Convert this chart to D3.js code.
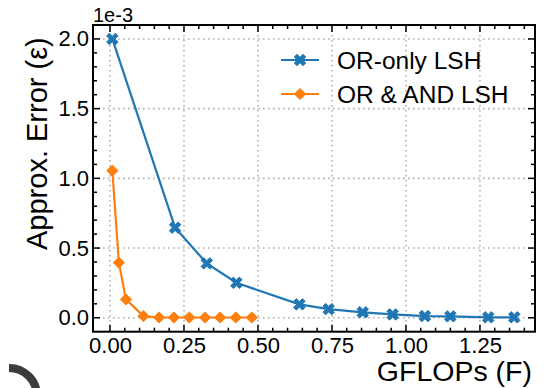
<!DOCTYPE html>
<html><head><meta charset="utf-8">
<script src="https://cdn.jsdelivr.net/npm/d3@7"></script>
<style>html,body{margin:0;padding:0;background:#fff;}svg{display:block;font-family:"Liberation Sans",Arial,sans-serif;}</style>
</head><body>
<svg id="c" width="546" height="388"></svg>
<script>
// values in units of 1e-3
const orOnlyX = [0.008, 0.22, 0.327, 0.427, 0.64, 0.739, 0.854, 0.955, 1.064, 1.15, 1.278, 1.366];
const orOnlyY = [2.0, 0.646, 0.39, 0.251, 0.096, 0.062, 0.039, 0.024, 0.012, 0.01, 0.003, 0.003];
const orAndX = [0.008, 0.030, 0.054, 0.113, 0.166, 0.216, 0.268, 0.321, 0.372, 0.425, 0.479];
const orAndY = [1.055, 0.395, 0.132, 0.012, 0.002, 0.002, 0.002, 0.002, 0.002, 0.002, 0.002];
const xTicks = [0, 0.25, 0.5, 0.75, 1.0, 1.25];
const yTicks = [0, 0.5, 1.0, 1.5, 2.0];
const seriesNames = ["OR-only LSH", "OR & AND LSH"];
const colors = ["#1f77b4", "#ff7f0e"];

const svg = d3.select("#c");
const L = 93, R = 535, T = 25, B = 331.7;
const x = d3.scaleLinear().domain([-0.0574, 1.436]).range([L, R]);
const y = d3.scaleLinear().domain([-0.1, 2.1]).range([B, T]);

// grid
const grid = svg.append("g").attr("stroke", "#b0b0b0").attr("stroke-width", 1.6).attr("stroke-dasharray", "1.6,3.4");
xTicks.forEach(v => grid.append("line").attr("x1", x(v)).attr("x2", x(v)).attr("y1", T).attr("y2", B));
yTicks.forEach(v => grid.append("line").attr("y1", y(v)).attr("y2", y(v)).attr("x1", L).attr("x2", R));

// ticks (inward, all sides)
const xMinor = d3.range(0, 1.43, 0.05).filter(v => !xTicks.some(t => Math.abs(t - v) < 1e-6));
const yMinor = d3.range(-0.1, 2.101, 0.1).filter(v => v > -0.099 && v < 2.099 && !yTicks.some(t => Math.abs(t - v) < 1e-6));
const tg = svg.append("g").attr("stroke", "#000").attr("stroke-width", 1.5);
function xt(v, len) {
  tg.append("line").attr("x1", x(v)).attr("x2", x(v)).attr("y1", B).attr("y2", B - len);
  tg.append("line").attr("x1", x(v)).attr("x2", x(v)).attr("y1", T).attr("y2", T + len);
}
function yt(v, len) {
  tg.append("line").attr("y1", y(v)).attr("y2", y(v)).attr("x1", L).attr("x2", L + len);
  tg.append("line").attr("y1", y(v)).attr("y2", y(v)).attr("x1", R).attr("x2", R - len);
}
xTicks.forEach(v => xt(v, 7)); xMinor.forEach(v => xt(v, 4));
yTicks.forEach(v => yt(v, 7)); yMinor.forEach(v => yt(v, 4));

// tick labels via axes (no lines)
const xa = svg.append("g").attr("transform", `translate(0,${B})`)
  .call(d3.axisBottom(x).tickValues(xTicks).tickFormat(d3.format(".2f")).tickSize(0).tickPadding(5));
const ya = svg.append("g").attr("transform", `translate(${L},0)`)
  .call(d3.axisLeft(y).tickValues(yTicks).tickFormat(d3.format(".1f")).tickSize(0).tickPadding(4));
[xa, ya].forEach(a => {
  a.select(".domain").remove();
  a.selectAll("text").attr("font-size", 22).attr("fill", "#000").attr("font-family", "Liberation Sans, Arial, sans-serif");
});
xa.selectAll("text").attr("dy", "0.72em");

// marker shapes (matplotlib-like filled X and square diamond)
function xPath(a, t) {
  // plus shape with half-length a and half-thickness t, rotated 45deg
  const pts = [[t,t],[t,a],[-t,a],[-t,t],[-a,t],[-a,-t],[-t,-t],[-t,-a],[t,-a],[t,-t],[a,-t],[a,t]];
  const c = Math.SQRT1_2;
  return "M" + pts.map(p => [(p[0]-p[1])*c, (p[0]+p[1])*c].map(v => v.toFixed(2)).join(",")).join("L") + "Z";
}
const X_PATH = xPath(6.2, 1.9);
const D_PATH = "M0,-5.6L5.6,0L0,5.6L-5.6,0Z";
function marker(g, i, cx, cy) {
  g.append("path").attr("d", i === 0 ? X_PATH : D_PATH).attr("transform", `translate(${cx},${cy})`)
    .attr("fill", colors[i]).attr("stroke", colors[i]).attr("stroke-width", 1).attr("stroke-linejoin", "round");
}
const line = d3.line().x(d => x(d[0])).y(d => y(d[1]));
const data = [d3.zip(orOnlyX, orOnlyY), d3.zip(orAndX, orAndY)];
data.forEach((pts, i) => {
  const g = svg.append("g");
  g.append("path").attr("d", line(pts)).attr("fill", "none").attr("stroke", colors[i]).attr("stroke-width", 2.2);
  pts.forEach(p => marker(g, i, x(p[0]), y(p[1])));
});

// spines
svg.append("rect").attr("x", L).attr("y", T).attr("width", R - L).attr("height", B - T)
  .attr("fill", "none").attr("stroke", "#000").attr("stroke-width", 2);

// offset text
svg.append("text").attr("x", L).attr("y", 22).attr("font-size", 20).text("1e-3");

// legend
const lg = svg.append("g");
[60, 94].forEach((ly, i) => {
  lg.append("line").attr("x1", 281).attr("x2", 319).attr("y1", ly).attr("y2", ly).attr("stroke", colors[i]).attr("stroke-width", 2.2);
  marker(lg, i, 300, ly);
  lg.append("text").attr("x", 337).attr("y", ly + 8.5).attr("font-size", 24.5).text(seriesNames[i]);
});

// axis labels
svg.append("text").attr("transform", "translate(47,250) rotate(-90)").attr("font-size", 29).text("Approx. Error (ε)");
svg.append("text").attr("x", 532).attr("y", 381).attr("text-anchor", "end").attr("font-size", 28.5).text("GFLOPs (F)");

// cropped artifact bottom-left
svg.append("path").attr("d", "M 9 368 A 28 28 0 0 1 37 396").attr("fill", "none").attr("stroke", "#3c3c3c").attr("stroke-width", 8);
</script>
</body></html>
